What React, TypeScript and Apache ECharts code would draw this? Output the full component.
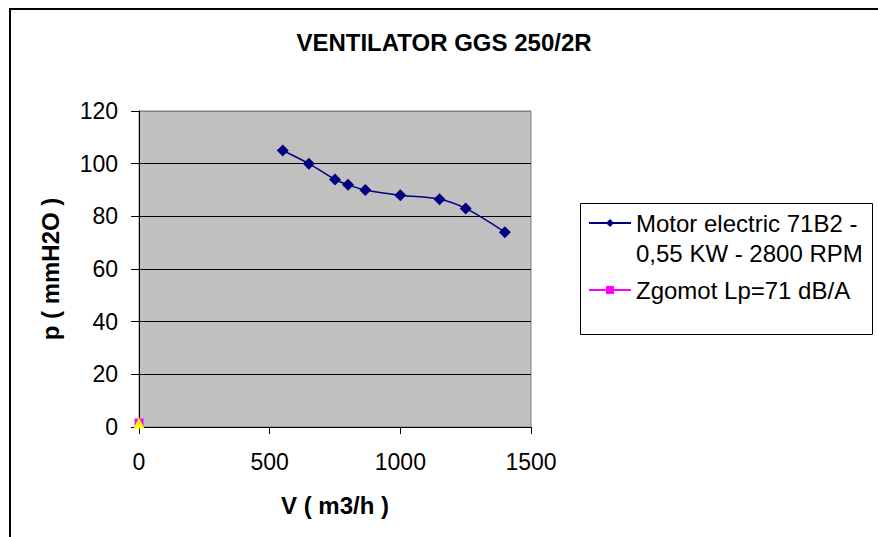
import React, { useEffect, useRef } from "react";
import * as echarts from "echarts";

const titleText = "VENTILATOR GGS 250/2R";
const xName = "V ( m3/h )";
const yName = "p ( mmH2O )";
const motorName = "Motor electric 71B2 -\n0,55 KW - 2800 RPM";
const noiseName = "Zgomot Lp=71 dB/A";
const flowValues = [550, 650, 750, 800, 866, 1000, 1150, 1250, 1400];
const pressureValues = [105, 100, 94, 92, 90, 88, 86.5, 83, 74];
const noisePoint = [0, 1.5];
const extraPoint = [0, 1.5];
const yTicks = [0, 20, 40, 60, 80, 100, 120];

export default function App() {
  const ref = useRef<HTMLDivElement>(null);
  useEffect(() => {
    if (!ref.current) return;
    const chart = echarts.init(ref.current, null, { renderer: "svg" });
    const font = "'Liberation Sans', Arial, sans-serif";
    chart.setOption({
      animation: false,
      backgroundColor: "#ffffff",
      title: {
        text: titleText,
        left: 444,
        top: 30,
        textAlign: "center",
        padding: 0,
        textStyle: { fontFamily: font, fontSize: 24, fontWeight: "bold", color: "#000" },
      },
      graphic: [
        {
          type: "rect",
          shape: { x: 10, y: 9, width: 950, height: 600 },
          style: { fill: "none", stroke: "#000", lineWidth: 2 },
          silent: true,
          z: -1,
        },
        {
          type: "rect",
          shape: { x: 580.5, y: 203.5, width: 292, height: 131 },
          style: { fill: "#fff", stroke: "#000", lineWidth: 1 },
          silent: true,
          z: 0,
        },
      ],
      legend: {
        orient: "vertical",
        left: 588,
        top: 178,
        padding: 0,
        itemGap: 7,
        itemWidth: 42,
        itemHeight: 10,
        z: 10,
        formatter: (name: string) => (name === motorName ? "\n" + name : name),
        textStyle: { fontFamily: font, fontSize: 24, color: "#000", lineHeight: 30 },
        data: [motorName, noiseName],
      },
      grid: {
        left: 139,
        top: 111,
        width: 392,
        height: 316,
        show: true,
        backgroundColor: "#C0C0C0",
        borderColor: "#808080",
        borderWidth: 1,
        containLabel: false,
      },
      xAxis: {
        type: "value",
        min: 0,
        max: 1500,
        interval: 500,
        name: xName,
        nameLocation: "middle",
        nameGap: 66,
        nameTextStyle: { fontFamily: font, fontSize: 24, fontWeight: "bold", color: "#000" },
        axisLine: { show: true, onZero: false, lineStyle: { color: "#000", width: 1 } },
        axisTick: { show: true, inside: false, length: 7, lineStyle: { color: "#000" } },
        axisLabel: {
          fontFamily: font,
          fontSize: 23,
          color: "#000",
          margin: 23,
          formatter: (v: number) => String(v),
        },
        splitLine: { show: false },
      },
      yAxis: {
        type: "value",
        min: yTicks[0],
        max: yTicks[yTicks.length - 1],
        interval: 20,
        name: yName,
        nameLocation: "middle",
        nameGap: 77,
        nameTextStyle: { fontFamily: font, fontSize: 24, fontWeight: "bold", color: "#000" },
        axisLine: { show: true, lineStyle: { color: "#000", width: 1 } },
        axisTick: { show: true, inside: false, length: 8, lineStyle: { color: "#000" } },
        axisLabel: {
          fontFamily: font,
          fontSize: 23,
          color: "#000",
          margin: 21,
          formatter: (v: number) => String(v),
        },
        splitLine: {
          show: true,
          lineStyle: {
            color: ["#000", "#000", "#000", "#000", "#000", "#000", "#808080"],
            width: 1,
          },
        },
      },
      series: [
        {
          name: motorName,
          type: "line",
          data: flowValues.map((x, i) => [x, pressureValues[i]]),
          smooth: 0.35,
          symbol: "diamond",
          symbolSize: 12,
          lineStyle: { color: "#000080", width: 1.5 },
          itemStyle: { color: "#000080" },
        },
        {
          name: noiseName,
          type: "line",
          data: [noisePoint],
          symbol: "rect",
          symbolSize: 9,
          clip: false,
          lineStyle: { color: "#FF00FF", width: 1.5 },
          itemStyle: { color: "#FF00FF" },
        },
        {
          name: "extra",
          type: "line",
          data: [extraPoint],
          symbol: "triangle",
          symbolSize: 11,
          clip: false,
          lineStyle: { color: "#FFFF00" },
          itemStyle: { color: "#FFFF00" },
        },
      ],
    });
    return () => chart.dispose();
  }, []);
  return (
    <div
      ref={ref}
      style={{ position: "fixed", left: 0, top: 0, width: 878, height: 537 }}
    />
  );
}
